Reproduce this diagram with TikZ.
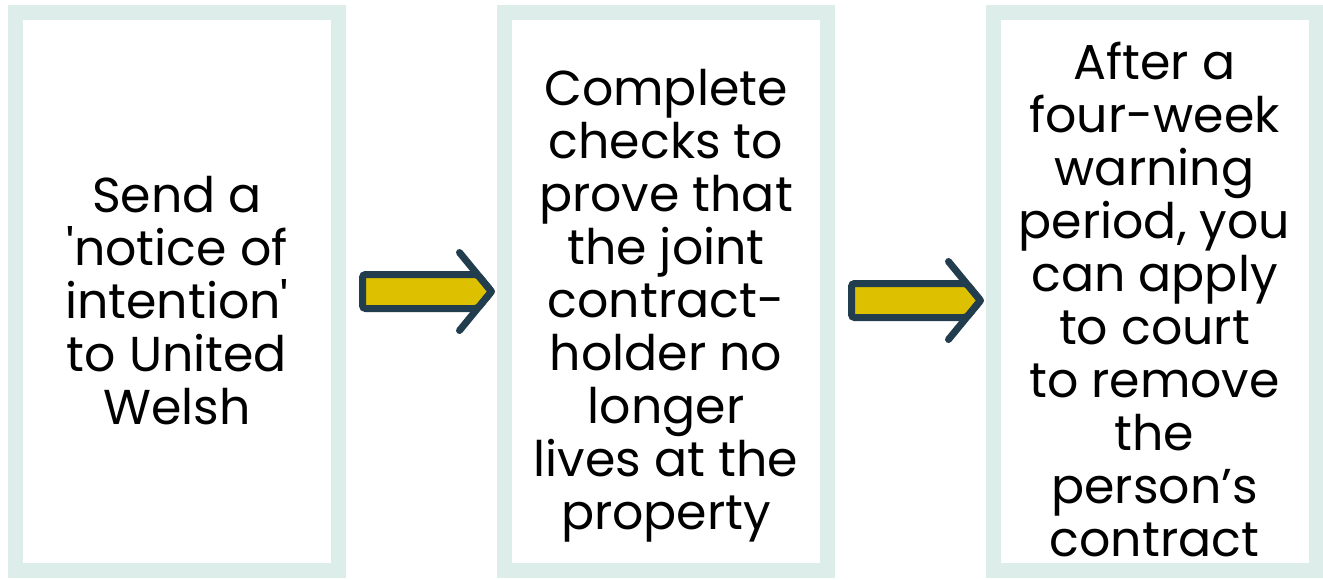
\documentclass[tikz,border=0pt]{standalone}
\usepackage{fontspec}
\setmainfont{Poppins}
\usepackage{tikz}
\usetikzlibrary{calc, positioning}
\usepackage{xcolor}
\definecolor{boxline}{RGB}{221, 237, 233}
\definecolor{arrowfill}{RGB}{221, 193, 0}
\definecolor{arrowline}{RGB}{34, 61, 77}

\tikzset{
  pics/nextarrow/.style={code={
    \draw[arrowline, fill=arrowfill, line width=7pt, rounded corners=3pt]
      (0, -17) -- (115, -17) -- (129, 0) -- (115, 17) -- (0, 17) -- cycle;
    \draw[arrowline, line width=7pt, line cap=round, line join=round]
      (97, -39) -- (129, 0) -- (97, 39);
  }}
}

\begin{document}
\begin{tikzpicture}[x=1pt, y=-1pt, font=\fontsize{49}{53}\selectfont]
  \useasboundingbox (0, 0) rectangle (1323, 579);
  \tikzset{stepbox/.style={draw=boxline, line width=15pt, fill=white,
      minimum width=323pt, minimum height=558pt, inner sep=0pt},
    steptext/.style={align=center, inner sep=0pt, text=black}}

  \node[stepbox] (box1) at (177, 291.5) {};
  \node[stepbox] (box2) at (666, 291.5) {};
  \node[stepbox] (box3) at (1154.5, 291.5) {};

  \node[steptext] (text1) at ([yshift=-9pt]box1.center)
    {Send a\\\textquotesingle notice of\\intention\textquotesingle\\to United\\Welsh};
  \node[steptext] (text2) at ([yshift=-14pt]box2.center)
    {Complete\\checks to\\prove that\\the joint\\contract-\\holder no\\longer\\lives at the\\property};
  \node[steptext] (text3) at ([yshift=-8pt]box3.center)
    {After a\\four-week\\warning\\period, you\\can apply\\to court\\to remove\\the\\person’s\\contract};

  % arrows between the steps
  \pic at (362.5, 291.5) {nextarrow};
  \pic at (851.5, 300.5) {nextarrow};
\end{tikzpicture}
\end{document}
